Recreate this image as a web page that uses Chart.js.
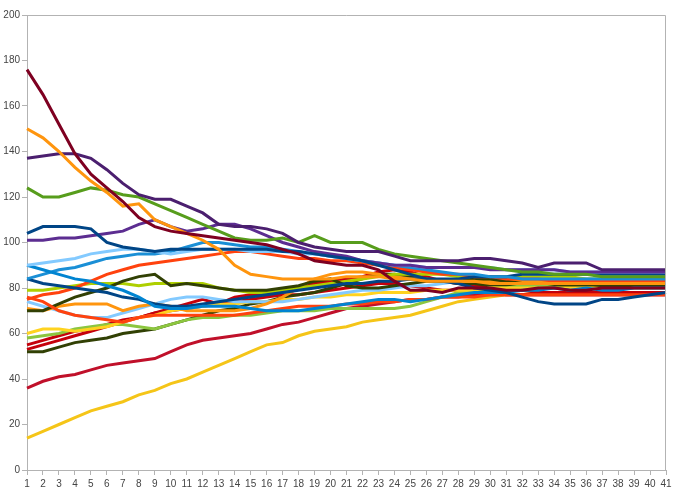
<!DOCTYPE html>
<html>
<head>
<meta charset="utf-8">
<script src="https://cdn.jsdelivr.net/npm/chart.js@4/dist/chart.umd.min.js"></script>
<style>
  html, body { margin: 0; padding: 0; background: #fff; }
</style>
</head>
<body>
<canvas id="chart" width="678" height="488"></canvas>
<script>
// data
const steps = [];
for (let i = 1; i <= 41; i++) steps.push(String(i));
const yTicks = [0, 20, 40, 60, 80, 100, 120, 140, 160, 180, 200];

const sMaroon   = [176,165,152,139,130,124,118,111,107,105,104,103,102,101,100,99,97,95,92,91,90,90,88,83,79,79,78,80,80,80,79,79,80,80,79,79,80,80,80,80,80];
const sOrange   = [150,146,140,133,127,122,116,117,110,107,104,101,97,90,86,85,84,84,84,84,85,85,85,84,84,83,83,83,83,82,82,82,82,82,82,82,82,82,82,82,82];
const sPurple   = [137,138,139,139,137,132,126,121,119,119,116,113,108,107,107,106,104,100,98,97,96,96,96,94,92,92,92,92,93,93,92,91,89,91,91,91,88,88,88,88,88];
const sGreen    = [124,120,120,122,124,123,121,120,117,114,111,108,105,102,101,101,102,100,103,100,100,100,97,95,94,93,92,91,90,89,88,87,87,86,86,86,85,85,85,85,85];
const sNavy     = [104,107,107,107,106,100,98,97,96,97,97,97,97,97,97,97,96,96,95,94,93,92,90,88,86,84,83,82,80,79,78,76,74,73,73,73,75,75,76,77,78];
const sPurple2  = [101,101,102,102,103,104,105,108,110,107,105,106,108,108,106,103,100,98,96,95,94,92,91,90,90,89,89,89,89,88,88,88,88,88,87,87,87,87,87,87,87];
const sSky      = [90,91,92,93,95,96,97,97,96,95,96,97,97,97,96,96,96,95,95,94,93,92,91,90,90,89,89,89,89,89,88,88,88,88,87,87,87,87,87,87,87];
const sBlue     = [90,88,86,84,83,81,79,76,72,71,71,72,72,72,71,70,70,70,71,72,73,74,75,75,74,75,76,77,78,78,78,79,79,80,79,80,79,79,80,80,80];
const sBlue2    = [84,86,88,89,91,93,94,95,95,96,98,100,100,99,98,98,97,96,95,94,93,92,91,90,89,88,87,86,86,85,85,84,84,84,84,84,84,84,84,84,84];
const sNavy2    = [84,82,81,80,79,78,76,75,73,72,72,73,74,75,76,77,78,79,80,81,82,82,83,83,84,84,84,84,85,85,85,86,86,86,86,86,86,86,86,86,86];
const sRed      = [76,74,70,68,67,66,65,67,68,68,68,68,68,68,69,70,71,72,72,72,73,73,74,74,75,75,76,76,76,77,77,77,77,77,77,77,77,77,77,77,77];
const sRed2     = [75,77,78,80,83,86,88,90,91,92,93,94,95,96,96,95,94,93,93,92,92,91,90,89,88,87,86,86,85,85,84,84,84,83,83,83,83,83,83,83,83];
const sOlive    = [70,70,73,76,78,80,83,85,86,81,82,81,80,79,79,79,80,81,83,84,81,80,80,81,82,83,83,83,84,84,83,82,82,82,82,82,81,81,81,81,81];
const sLime     = [79,79,80,81,82,82,82,81,82,82,82,82,80,79,78,78,79,80,81,82,83,84,85,86,86,86,86,85,85,85,85,85,85,85,85,84,84,84,84,84,84];
const sOrange2  = [71,70,72,73,73,73,70,72,73,72,70,70,70,70,71,73,76,80,84,86,87,87,86,85,84,84,83,83,83,83,83,83,83,83,83,83,83,83,83,83,83];
const sSky2     = [74,72,70,68,67,67,69,71,73,75,76,76,75,74,74,74,74,75,76,77,78,79,79,80,81,81,82,83,83,83,83,84,84,84,84,84,84,84,84,84,84];
const sYellow   = [60,62,62,61,62,63,65,67,68,70,71,72,73,73,74,74,75,75,76,76,77,77,78,78,78,79,79,79,79,80,80,80,80,80,80,80,80,80,80,80,80];
const sLime2    = [58,59,60,62,63,64,64,63,62,64,66,67,67,68,68,69,70,70,70,71,71,71,71,71,72,74,76,78,79,80,80,81,81,82,82,82,82,82,82,82,82];
const sOlive2   = [52,52,54,56,57,58,60,61,62,64,66,68,70,71,73,74,76,77,78,80,82,84,86,86,85,84,83,82,82,81,81,81,81,81,81,81,81,81,81,81,81];
const sCrimson  = [55,57,59,61,62,64,66,67,69,71,73,75,73,76,77,78,79,80,82,83,84,85,87,88,87,85,83,82,81,80,79,79,78,78,78,78,78,78,78,78,78];
const sCrimson2 = [53,55,57,59,61,63,65,67,69,70,71,72,73,74,75,76,77,77,78,79,80,81,82,82,81,80,79,79,78,78,77,77,77,77,77,77,77,77,77,77,77];
const sCrimson3 = [36,39,41,42,44,46,47,48,49,52,55,57,58,59,60,62,64,65,67,69,71,72,73,74,75,75,76,76,77,77,77,77,77,77,77,77,77,77,77,77,77];
const sGold     = [14,17,20,23,26,28,30,33,35,38,40,43,46,49,52,55,56,59,61,62,63,65,66,67,68,70,72,74,75,76,77,77,78,78,78,78,78,78,78,78,78];

const series = [sMaroon, sOrange, sPurple, sGreen, sNavy, sPurple2, sSky, sBlue, sBlue2, sNavy2, sRed, sRed2,
                sOlive, sLime, sOrange2, sSky2, sYellow, sLime2, sOlive2, sCrimson, sCrimson2, sCrimson3, sGold];
const colors = ['#7e0021', '#ff950e', '#4b1f6f', '#579d1c', '#004586', '#5c2d91', '#83caff', '#0084d1', '#1a8fd6', '#004586', '#ff420e', '#ff420e',
                '#314004', '#aecf00', '#ff950e', '#83caff', '#ffd320', '#8cc63f', '#314004', '#c5000b', '#c5000b', '#c0102a', '#f5c518'];

// frame on top / right of the plot
const frame = {
  id: 'frame',
  afterDraw(chart) {
    const a = chart.chartArea, c = chart.ctx;
    c.save();
    c.strokeStyle = '#b3b3b3';
    c.lineWidth = 1;
    c.beginPath();
    c.moveTo(a.left, a.top + 0.5);
    c.lineTo(a.right - 0.5, a.top + 0.5);
    c.lineTo(a.right - 0.5, a.bottom);
    c.stroke();
    c.restore();
  }
};

new Chart(document.getElementById('chart'), {
  type: 'line',
  data: {
    labels: steps,
    datasets: series.map((d, i) => ({
      data: d,
      borderColor: colors[i],
      borderWidth: 3,
      pointRadius: 0,
      tension: 0,
      fill: false
    }))
  },
  options: {
    responsive: false,
    animation: false,
    layout: { padding: { top: 15, right: 12, left: 0, bottom: 0 } },
    plugins: { legend: { display: false }, tooltip: { enabled: false } },
    scales: {
      x: {
        offset: false,
        grid: { drawOnChartArea: false, drawTicks: true, tickLength: 5, color: '#b3b3b3' },
        border: { color: '#b3b3b3' },
        ticks: { autoSkip: false, maxRotation: 0, padding: 3, color: '#444', font: { family: 'Liberation Sans', size: 10 } },
        afterFit(s) { s.height = 18; }
      },
      y: {
        min: 0, max: 200,
        afterBuildTicks(s) { s.ticks = yTicks.map(v => ({ value: v })); },
        grid: { drawOnChartArea: false, drawTicks: true, tickLength: 5, color: '#b3b3b3' },
        border: { color: '#b3b3b3' },
        ticks: { padding: 2, color: '#444', font: { family: 'Liberation Sans', size: 10 } },
        afterFit(s) { s.width = 27; }
      }
    }
  },
  plugins: [frame]
});
</script>
</body>
</html>
